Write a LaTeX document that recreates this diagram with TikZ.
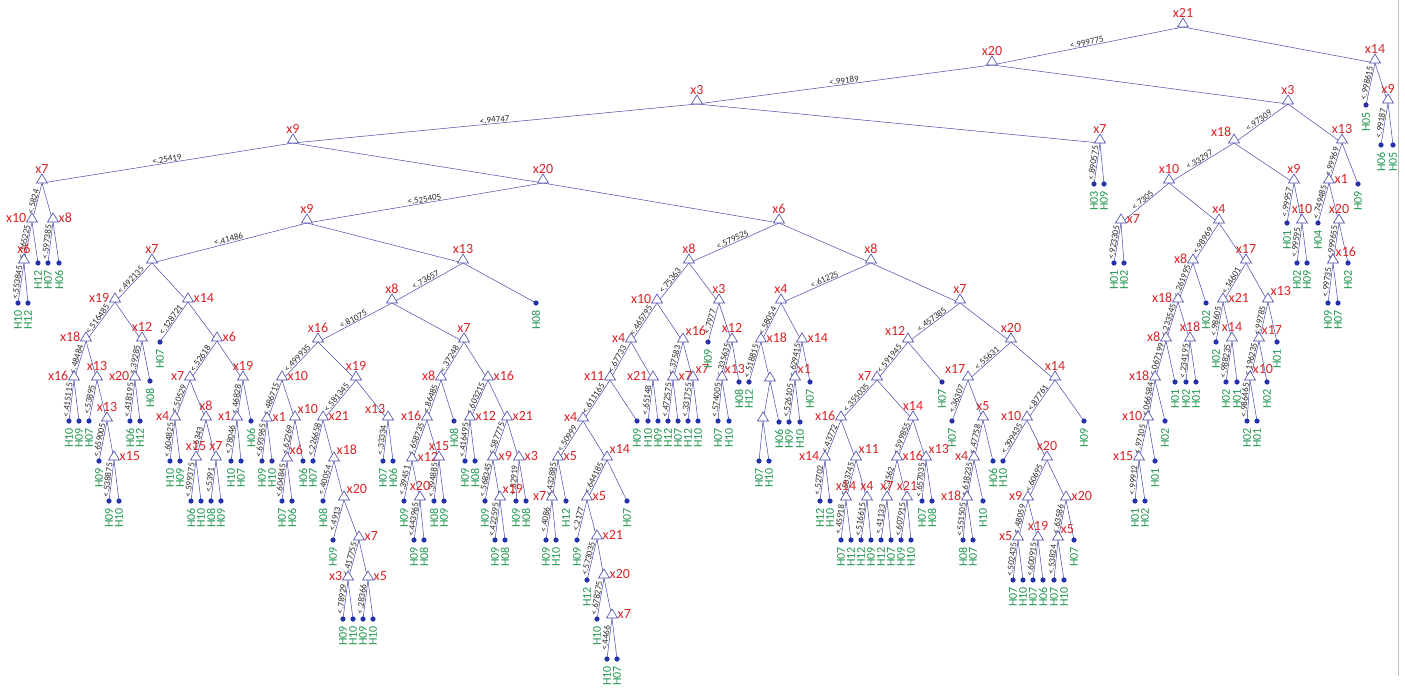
\documentclass[tikz,border=0pt]{standalone}
\usepackage{fontspec}
\setmainfont{Carlito}
\pgfdeclarelayer{edges}
\pgfsetlayers{edges,main}
\definecolor{linkblue}{RGB}{70,72,170}
\definecolor{dotblue}{RGB}{38,50,170}
\definecolor{varred}{RGB}{218,36,40}
\definecolor{classgreen}{RGB}{32,150,78}
\definecolor{cutgray}{RGB}{40,40,40}
\tikzset{
  split/.style={draw=linkblue, fill=white, line width=0.6pt},
  varlabel/.style={text=varred, font=\fontsize{14}{14}\selectfont, inner sep=0.5pt},
  classlabel/.style={text=classgreen, font=\fontsize{12}{12}\selectfont, rotate=90, anchor=east, inner sep=0pt},
  link/.style={draw=linkblue, line width=0.5pt},
  cut/.style={sloped, above, midway, inner sep=0.6pt, text=cutgray, font=\fontsize{9}{9}\selectfont},
  pa/.style={anchor=south, yshift=9pt},
  pl/.style={anchor=east, xshift=-5pt, yshift=4pt},
  pr/.style={anchor=west, xshift=5pt, yshift=4pt},
  par/.style={anchor=south west, xshift=2pt, yshift=6pt},
  pal/.style={anchor=south east, xshift=-2pt, yshift=6pt}
}
% split node: name, x, y, variable, label placement
\newcommand\SplitAt[5]{%
  \coordinate (#1) at (#2,#3);
  \filldraw[split] (#2-5.5,#3) -- (#2,#3-9) -- (#2+5.5,#3) -- cycle;
  \node[varlabel,#5] at (#2,#3) {#4};}
% terminal node: name, x, y, class
\newcommand\LeafAt[4]{%
  \coordinate (#1) at (#2,#3);
  \fill[dotblue] (#1) circle[radius=2.6pt];
  \node[classlabel] at (#2,#3+7) {#4};}
% both branches of a split; the left one carries the cut value
\newcommand\Kids[4]{%
  \draw[link] (#1) -- node[cut]{#4} (#2);
  \draw[link] (#1) -- (#3);}
\begin{document}
\begin{tikzpicture}[x=1pt,y=-1pt]
\useasboundingbox (0,0) rectangle (1405,696);
\draw[black!25, line width=1pt] (1398,0) -- (1398,676);

% ---- upper levels
\SplitAt{r}{1183}{27}{x21}{pa}
\SplitAt{a}{992}{65}{x20}{pa}
\SplitAt{b}{1375}{63}{x14}{pa}
\LeafAt{b1}{1366}{105}{H05}
\SplitAt{c}{1388}{103}{x9}{pa}
\LeafAt{c1}{1381}{145}{H06}
\LeafAt{c2}{1393}{145}{H05}
\SplitAt{d}{697}{104}{x3}{pa}
\SplitAt{e}{1288}{104}{x3}{pa}
\SplitAt{f}{293}{143}{x9}{pa}
\SplitAt{g}{1100}{143}{x7}{pa}
\LeafAt{g1}{1094}{184}{H03}
\LeafAt{g2}{1104}{184}{H09}

% ---- far left branch
\SplitAt{h}{42}{183}{x7}{pa}
\SplitAt{i}{543}{183}{x20}{pa}
\SplitAt{h1}{32}{222}{x10}{pl}
\SplitAt{h2}{53}{222}{x8}{pr}
\SplitAt{h3}{24}{263}{x6}{pa}
\LeafAt{h4}{38}{263}{H12}
\LeafAt{h5}{18}{303}{H10}
\LeafAt{h6}{28}{303}{H12}
\LeafAt{h7}{48}{263}{H07}
\LeafAt{h8}{59}{263}{H06}

% ---- x9 / x7 subtree
\SplitAt{j}{307}{223}{x9}{pa}
\SplitAt{k}{779}{223}{x6}{pa}
\SplitAt{m}{152}{263}{x7}{pa}
\SplitAt{n}{463}{263}{x13}{pa}
\SplitAt{m1}{115}{302}{x19}{pl}
\SplitAt{m2}{188}{302}{x14}{pr}
\SplitAt{m3}{86}{341}{x18}{pl}
\SplitAt{m4}{142}{341}{x12}{pa}
\SplitAt{m5}{74}{380}{x16}{pl}
\SplitAt{m6}{97}{380}{x13}{pa}
\LeafAt{m7}{69}{421}{H10}
\LeafAt{m8}{79}{421}{H09}
\LeafAt{m9}{89}{421}{H07}
\SplitAt{m10}{107}{421}{x13}{pa}
\LeafAt{m11}{99}{461}{H09}
\SplitAt{m12}{114}{460}{x15}{pr}
\LeafAt{m13}{109}{501}{H09}
\LeafAt{m14}{119}{501}{H10}
\SplitAt{m15}{135}{380}{x20}{pl}
\LeafAt{m16}{150}{381}{H08}
\LeafAt{m17}{130}{421}{H06}
\LeafAt{m18}{140}{421}{H12}
\LeafAt{m19}{160}{342}{H07}
\SplitAt{m20}{217}{341}{x6}{pr}
\SplitAt{m21}{190}{380}{x7}{pl}
\SplitAt{m22}{243}{380}{x19}{pa}
\SplitAt{m23}{175}{420}{x4}{pl}
\SplitAt{m24}{206}{420}{x8}{pa}
\LeafAt{m25}{170}{461}{H10}
\LeafAt{m26}{180}{461}{H09}
\SplitAt{m27}{196}{460}{x15}{pa}
\SplitAt{m28}{216}{460}{x7}{pa}
\LeafAt{m29}{191}{501}{H06}
\LeafAt{m30}{201}{501}{H10}
\LeafAt{m31}{211}{501}{H08}
\LeafAt{m32}{221}{501}{H09}
\SplitAt{m33}{237}{420}{x1}{pl}
\LeafAt{m34}{251}{421}{H06}
\LeafAt{m35}{231}{461}{H10}
\LeafAt{m36}{241}{461}{H07}

% ---- x13 subtree
\SplitAt{p}{392}{303}{x8}{pa}
\LeafAt{p0}{536}{303}{H08}
\SplitAt{p1}{318}{342}{x16}{pa}
\SplitAt{p2}{464}{342}{x7}{pa}
\SplitAt{p3}{282}{380}{x10}{pr}
\SplitAt{p4}{356}{380}{x19}{pa}
\SplitAt{p5}{267}{421}{x1}{pr}
\SplitAt{p6}{295}{420}{x10}{par}
\LeafAt{p7}{262}{461}{H09}
\LeafAt{p8}{272}{461}{H10}
\SplitAt{p9}{287}{461}{x6}{par}
\LeafAt{p10}{303}{461}{H06}
\LeafAt{p11}{282}{501}{H07}
\LeafAt{p12}{292}{501}{H06}
\SplitAt{p13}{323}{420}{x21}{pr}
\SplitAt{p14}{388}{420}{x13}{pal}
\LeafAt{p15}{313}{461}{H07}
\SplitAt{p16}{334}{461}{x18}{par}
\LeafAt{p17}{323}{501}{H08}
\SplitAt{p18}{344}{500}{x20}{par}
\LeafAt{p19}{333}{540}{H09}
\SplitAt{p20}{359}{540}{x7}{pr}
\SplitAt{p21}{348}{580}{x3}{pl}
\SplitAt{p22}{368}{580}{x5}{pr}
\LeafAt{p23}{343}{619}{H09}
\LeafAt{p24}{353}{619}{H10}
\LeafAt{p25}{363}{619}{H09}
\LeafAt{p26}{373}{619}{H10}
\LeafAt{p27}{383}{461}{H07}
\LeafAt{p28}{393}{461}{H06}
\SplitAt{q1}{441}{380}{x8}{pl}
\SplitAt{q2}{488}{380}{x16}{pr}
\SplitAt{q3}{427}{420}{x16}{pl}
\LeafAt{q4}{454}{421}{H08}
\SplitAt{q5}{412}{461}{x12}{pr}
\SplitAt{q6}{439}{460}{x15}{pa}
\LeafAt{q7}{404}{501}{H09}
\SplitAt{q8}{420}{500}{x20}{pa}
\LeafAt{q9}{414}{540}{H09}
\LeafAt{q10}{424}{540}{H08}
\LeafAt{q11}{434}{501}{H08}
\LeafAt{q12}{444}{501}{H09}
\SplitAt{q13}{470}{420}{x12}{pr}
\SplitAt{q14}{507}{420}{x21}{pr}
\LeafAt{q15}{465}{461}{H09}
\LeafAt{q16}{475}{461}{H08}
\SplitAt{q17}{493}{460}{x9}{pr}
\SplitAt{q18}{519}{460}{x3}{pr}
\LeafAt{q19}{485}{501}{H09}
\SplitAt{q20}{500}{500}{x19}{par}
\LeafAt{q21}{495}{540}{H09}
\LeafAt{q22}{505}{540}{H08}
\LeafAt{q23}{516}{501}{H09}
\LeafAt{q24}{526}{501}{H08}

% ---- x6 subtree, left part
\SplitAt{s}{689}{263}{x8}{pa}
\SplitAt{t}{871}{263}{x8}{pa}
\SplitAt{s1}{657}{303}{x10}{pl}
\SplitAt{s2}{719}{303}{x3}{pa}
\SplitAt{s3}{631}{342}{x4}{pl}
\SplitAt{s4}{683}{342}{x16}{par}
\SplitAt{s5}{610}{380}{x11}{pl}
\SplitAt{s6}{653}{380}{x21}{pl}
\SplitAt{s7}{583}{421}{x4}{pl}
\LeafAt{s8}{637}{421}{H09}
\SplitAt{s9}{558}{460}{x5}{pr}
\SplitAt{s10}{607}{460}{x14}{par}
\SplitAt{s11}{552}{500}{x7}{pl}
\LeafAt{s12}{566}{501}{H12}
\LeafAt{s13}{546}{540}{H09}
\LeafAt{s14}{556}{540}{H10}
\SplitAt{s15}{587}{500}{x5}{pr}
\LeafAt{s16}{627}{501}{H07}
\LeafAt{s17}{577}{540}{H09}
\SplitAt{s18}{597}{539}{x21}{pr}
\LeafAt{s19}{587}{580}{H12}
\SplitAt{s20}{604}{578}{x20}{pr}
\LeafAt{s21}{597}{619}{H10}
\SplitAt{s22}{612}{618}{x7}{pr}
\LeafAt{s23}{607}{659}{H10}
\LeafAt{s24}{617}{659}{H07}
\LeafAt{s25}{648}{421}{H10}
\LeafAt{s26}{658}{421}{H09}
\SplitAt{s27}{673}{380}{x7}{pr}
\SplitAt{s28}{693}{380}{x7}{par}
\LeafAt{s29}{668}{421}{H12}
\LeafAt{s30}{678}{421}{H07}
\LeafAt{s31}{688}{421}{H12}
\LeafAt{s32}{698}{421}{H10}
\LeafAt{s33}{708}{342}{H09}
\SplitAt{s34}{732}{342}{x12}{pa}
\SplitAt{s35}{722}{380}{x13}{par}
\LeafAt{s36}{739}{382}{H08}
\LeafAt{s37}{718}{421}{H07}
\LeafAt{s38}{729}{421}{H10}

% ---- x6 subtree, right part
\SplitAt{u}{781}{303}{x4}{pa}
\SplitAt{v}{960}{303}{x7}{pa}
\SplitAt{u1}{761}{342}{x18}{pr}
\SplitAt{u2}{802}{342}{x14}{pr}
\LeafAt{u3}{749}{382}{H12}
\SplitAt{u4}{770}{381}{}{pa}
\SplitAt{u5}{763}{421}{}{pa}
\LeafAt{u6}{779}{422}{H06}
\LeafAt{u7}{759}{461}{H07}
\LeafAt{u8}{769}{461}{H10}
\SplitAt{u9}{795}{380}{x1}{par}
\LeafAt{u10}{810}{382}{H07}
\LeafAt{u11}{789}{422}{H09}
\LeafAt{u12}{800}{422}{H10}
\SplitAt{w}{908}{342}{x12}{pal}
\SplitAt{z}{1011}{342}{x20}{pa}
\SplitAt{w1}{877}{380}{x7}{pl}
\LeafAt{w2}{942}{382}{H07}
\SplitAt{w3}{841}{420}{x16}{pl}
\SplitAt{w4}{913}{420}{x14}{pa}
\SplitAt{w5}{825}{460}{x14}{pl}
\SplitAt{w6}{856}{460}{x11}{par}
\LeafAt{w7}{820}{501}{H12}
\LeafAt{w8}{830}{501}{H10}
\SplitAt{w9}{846}{500}{x14}{pa}
\SplitAt{w10}{867}{500}{x4}{pa}
\LeafAt{w11}{841}{540}{H07}
\LeafAt{w12}{851}{540}{H12}
\LeafAt{w13}{861}{540}{H12}
\LeafAt{w14}{871}{540}{H09}
\SplitAt{w15}{897}{460}{x16}{pr}
\SplitAt{w16}{926}{460}{x13}{par}
\SplitAt{w17}{887}{500}{x7}{pa}
\SplitAt{w18}{907}{500}{x21}{pa}
\LeafAt{w19}{881}{540}{H12}
\LeafAt{w20}{891}{540}{H07}
\LeafAt{w21}{901}{540}{H09}
\LeafAt{w22}{911}{540}{H10}
\LeafAt{w23}{922}{501}{H07}
\LeafAt{w24}{932}{501}{H08}
\SplitAt{z1}{968}{380}{x17}{pal}
\SplitAt{z2}{1055}{380}{x14}{pa}
\LeafAt{z3}{952}{421}{H07}
\SplitAt{z4}{983}{420}{x5}{pa}
\SplitAt{z5}{974}{460}{x4}{pl}
\LeafAt{z6}{993}{461}{H06}
\SplitAt{z7}{967}{500}{x18}{pl}
\LeafAt{z8}{983}{501}{H10}
\LeafAt{z9}{963}{540}{H08}
\LeafAt{z10}{973}{540}{H07}
\SplitAt{z11}{1027}{420}{x10}{pl}
\LeafAt{z12}{1084}{421}{H09}
\LeafAt{z13}{1003}{461}{H10}
\SplitAt{z14}{1047}{460}{x20}{pa}
\SplitAt{z15}{1028}{500}{x9}{pl}
\SplitAt{z16}{1066}{500}{x20}{pr}
\SplitAt{z17}{1018}{540}{x5}{pl}
\SplitAt{z18}{1038}{540}{x19}{pa}
\LeafAt{z19}{1013}{580}{H07}
\LeafAt{z20}{1023}{580}{H10}
\LeafAt{z21}{1033}{580}{H07}
\LeafAt{z22}{1043}{580}{H06}
\SplitAt{z23}{1058}{540}{x5}{par}
\LeafAt{z24}{1074}{540}{H07}
\LeafAt{z25}{1054}{580}{H07}
\LeafAt{z26}{1064}{580}{H10}

% ---- right x3 subtree
\SplitAt{E1}{1234}{143}{x18}{pal}
\SplitAt{E2}{1342}{143}{x13}{pa}
\SplitAt{E3}{1169}{183}{x10}{pa}
\SplitAt{E4}{1294}{183}{x9}{pa}
\SplitAt{E5}{1121}{223}{x7}{pr}
\SplitAt{E6}{1219}{223}{x4}{pa}
\LeafAt{E7}{1114}{263}{H01}
\LeafAt{E8}{1124}{263}{H02}
\SplitAt{E9}{1193}{263}{x8}{pl}
\SplitAt{E10}{1246}{263}{x17}{pa}
\SplitAt{E11}{1178}{302}{x18}{pl}
\LeafAt{E12}{1206}{303}{H02}
\SplitAt{E13}{1166}{341}{x8}{pl}
\SplitAt{E14}{1190}{341}{x18}{pa}
\SplitAt{E15}{1155}{380}{x18}{pl}
\LeafAt{E16}{1175}{382}{H01}
\LeafAt{E17}{1186}{382}{H02}
\LeafAt{E18}{1196}{382}{H01}
\SplitAt{E19}{1148}{420}{x10}{pl}
\LeafAt{E20}{1165}{421}{H02}
\SplitAt{E21}{1139}{460}{x15}{pl}
\LeafAt{E22}{1155}{461}{H01}
\LeafAt{E23}{1135}{501}{H01}
\LeafAt{E24}{1145}{501}{H02}
\SplitAt{E25}{1223}{302}{x21}{pr}
\SplitAt{E26}{1268}{302}{x13}{par}
\LeafAt{E27}{1216}{342}{H02}
\SplitAt{E28}{1232}{341}{x14}{pa}
\LeafAt{E29}{1226}{382}{H02}
\LeafAt{E30}{1237}{382}{H01}
\SplitAt{E31}{1259}{341}{x17}{par}
\LeafAt{E32}{1277}{342}{H01}
\SplitAt{E33}{1250}{380}{x10}{par}
\LeafAt{E34}{1267}{382}{H02}
\LeafAt{E35}{1247}{421}{H02}
\LeafAt{E36}{1257}{421}{H01}
\LeafAt{E37}{1287}{223}{H01}
\SplitAt{E38}{1302}{223}{x10}{pa}
\LeafAt{E39}{1297}{263}{H02}
\LeafAt{E40}{1307}{263}{H09}
\SplitAt{E41}{1329}{183}{x1}{pr}
\LeafAt{E42}{1358}{184}{H09}
\LeafAt{E43}{1318}{223}{H04}
\SplitAt{E44}{1339}{223}{x20}{pa}
\SplitAt{E45}{1333}{263}{x16}{par}
\LeafAt{E46}{1348}{263}{H02}
\LeafAt{E47}{1328}{303}{H09}
\LeafAt{E48}{1338}{303}{H07}

\begin{pgfonlayer}{edges}
\Kids{r}{a}{b}{<.999775}
\Kids{b}{b1}{c}{<.998615}
\Kids{c}{c1}{c2}{<.99187}
\Kids{a}{d}{e}{<.99189}
\Kids{d}{f}{g}{<.94747}
\Kids{g}{g1}{g2}{<.890575}
\Kids{f}{h}{i}{<.25419}
\Kids{h}{h1}{h2}{<.5824}
\Kids{h1}{h3}{h4}{<.365225}
\Kids{h3}{h5}{h6}{<.553845}
\Kids{h2}{h7}{h8}{<.597385}
\Kids{i}{j}{k}{<.525405}
\Kids{j}{m}{n}{<.41486}
\Kids{m}{m1}{m2}{<.492135}
\Kids{m1}{m3}{m4}{<.516485}
\Kids{m3}{m5}{m6}{<.48484}
\Kids{m5}{m7}{m8}{<.415115}
\Kids{m6}{m9}{m10}{<.53895}
\Kids{m10}{m11}{m12}{<.659005}
\Kids{m12}{m13}{m14}{<.538875}
\Kids{m4}{m15}{m16}{<.39285}
\Kids{m15}{m17}{m18}{<.418195}
\Kids{m2}{m19}{m20}{<.128721}
\Kids{m20}{m21}{m22}{<.52618}
\Kids{m21}{m23}{m24}{<.50529}
\Kids{m23}{m25}{m26}{<.604825}
\Kids{m24}{m27}{m28}{<.6343}
\Kids{m27}{m29}{m30}{<.599375}
\Kids{m28}{m31}{m32}{<.5391}
\Kids{m22}{m33}{m34}{<.46828}
\Kids{m33}{m35}{m36}{<.78046}
\Kids{n}{p}{p0}{<.73657}
\Kids{p}{p1}{p2}{<.81075}
\Kids{p1}{p3}{p4}{<.499935}
\Kids{p3}{p5}{p6}{<.486715}
\Kids{p5}{p7}{p8}{<.693965}
\Kids{p6}{p9}{p10}{<.62269}
\Kids{p9}{p11}{p12}{<.604845}
\Kids{p4}{p13}{p14}{<.581345}
\Kids{p13}{p15}{p16}{<.226658}
\Kids{p16}{p17}{p18}{<.40054}
\Kids{p18}{p19}{p20}{<.4913}
\Kids{p20}{p21}{p22}{<.417755}
\Kids{p21}{p23}{p24}{<.78929}
\Kids{p22}{p25}{p26}{<.28366}
\Kids{p14}{p27}{p28}{<.33334}
\Kids{p2}{q1}{q2}{<.37248}
\Kids{q1}{q3}{q4}{<.86485}
\Kids{q3}{q5}{q6}{<.658735}
\Kids{q5}{q7}{q8}{<.39451}
\Kids{q8}{q9}{q10}{<.443965}
\Kids{q6}{q11}{q12}{<.394885}
\Kids{q2}{q13}{q14}{<.603215}
\Kids{q13}{q15}{q16}{<.416495}
\Kids{q14}{q17}{q18}{<.587775}
\Kids{q17}{q19}{q20}{<.568345}
\Kids{q20}{q21}{q22}{<.422595}
\Kids{q18}{q23}{q24}{<.82919}
\Kids{k}{s}{t}{<.579525}
\Kids{s}{s1}{s2}{<.75363}
\Kids{s1}{s3}{s4}{<.465795}
\Kids{s3}{s5}{s6}{<.67733}
\Kids{s5}{s7}{s8}{<.611165}
\Kids{s7}{s9}{s10}{<.50999}
\Kids{s9}{s11}{s12}{<.432885}
\Kids{s11}{s13}{s14}{<.4086}
\Kids{s10}{s15}{s16}{<.644185}
\Kids{s15}{s17}{s18}{<.2177}
\Kids{s18}{s19}{s20}{<.573035}
\Kids{s20}{s21}{s22}{<.678275}
\Kids{s22}{s23}{s24}{<.4466}
\Kids{s6}{s25}{s26}{<.65148}
\Kids{s4}{s27}{s28}{<.37583}
\Kids{s27}{s29}{s30}{<.472575}
\Kids{s28}{s31}{s32}{<.331755}
\Kids{s2}{s33}{s34}{<.7977}
\Kids{s34}{s35}{s36}{<.335635}
\Kids{s35}{s37}{s38}{<.574005}
\Kids{t}{u}{v}{<.61225}
\Kids{u}{u1}{u2}{<.58054}
\Kids{u1}{u3}{u4}{<.518815}
\Kids{u4}{u5}{u6}{}
\Kids{u5}{u7}{u8}{}
\Kids{u2}{u9}{u10}{<.629415}
\Kids{u9}{u11}{u12}{<.526105}
\Kids{v}{w}{z}{<.457385}
\Kids{w}{w1}{w2}{<.591945}
\Kids{w1}{w3}{w4}{<.355035}
\Kids{w3}{w5}{w6}{<.43772}
\Kids{w5}{w7}{w8}{<.52702}
\Kids{w6}{w9}{w10}{<.503745}
\Kids{w9}{w11}{w12}{<.45918}
\Kids{w10}{w13}{w14}{<.516615}
\Kids{w4}{w15}{w16}{<.599855}
\Kids{w15}{w17}{w18}{<.3562}
\Kids{w17}{w19}{w20}{<.41133}
\Kids{w18}{w21}{w22}{<.607915}
\Kids{w16}{w23}{w24}{<.657035}
\Kids{z}{z1}{z2}{<.55631}
\Kids{z1}{z3}{z4}{<.36307}
\Kids{z4}{z5}{z6}{<.47758}
\Kids{z5}{z7}{z8}{<.618235}
\Kids{z7}{z9}{z10}{<.551505}
\Kids{z2}{z11}{z12}{<.87761}
\Kids{z11}{z13}{z14}{<.399435}
\Kids{z14}{z15}{z16}{<.60695}
\Kids{z15}{z17}{z18}{<.48059}
\Kids{z17}{z19}{z20}{<.502435}
\Kids{z18}{z21}{z22}{<.600915}
\Kids{z16}{z23}{z24}{<.63586}
\Kids{z23}{z25}{z26}{<.53824}
\Kids{e}{E1}{E2}{<.97309}
\Kids{E1}{E3}{E4}{<.33297}
\Kids{E3}{E5}{E6}{<.7305}
\Kids{E5}{E7}{E8}{<.923305}
\Kids{E6}{E9}{E10}{<.98969}
\Kids{E9}{E11}{E12}{<.261995}
\Kids{E11}{E13}{E14}{<.233545}
\Kids{E13}{E15}{E16}{<.067199}
\Kids{E14}{E17}{E18}{<.234195}
\Kids{E15}{E19}{E20}{<.066584}
\Kids{E19}{E21}{E22}{<.97105}
\Kids{E21}{E23}{E24}{<.99912}
\Kids{E10}{E25}{E26}{<.14601}
\Kids{E25}{E27}{E28}{<.98605}
\Kids{E28}{E29}{E30}{<.988235}
\Kids{E26}{E31}{E32}{<.99785}
\Kids{E31}{E33}{E34}{<.196235}
\Kids{E33}{E35}{E36}{<.986465}
\Kids{E4}{E37}{E38}{<.99957}
\Kids{E38}{E39}{E40}{<.99595}
\Kids{E2}{E41}{E42}{<.99969}
\Kids{E41}{E43}{E44}{<.749485}
\Kids{E44}{E45}{E46}{<.999655}
\Kids{E45}{E47}{E48}{<.99735}
\end{pgfonlayer}
\end{tikzpicture}
\end{document}
